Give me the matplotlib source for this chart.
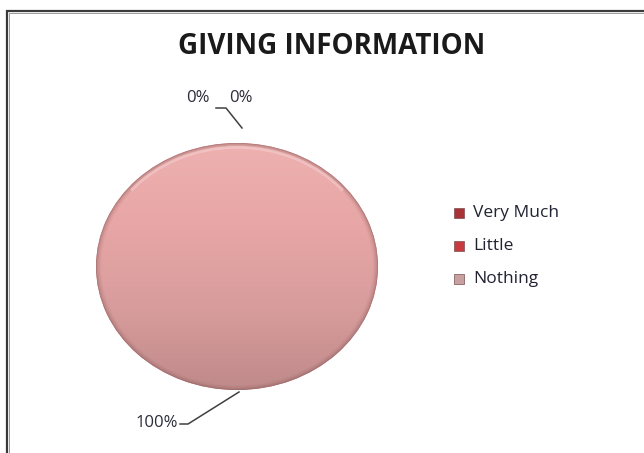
import numpy as np
import matplotlib.pyplot as plt
from matplotlib.colors import LinearSegmentedColormap
from matplotlib.patches import Rectangle, Ellipse, Arc

plt.rcParams['font.family'] = ['Open Sans', 'DejaVu Sans']

title = 'GIVING INFORMATION'
categories = ['Very Much', 'Little', 'Nothing']
values = [0, 0, 100]
colors = ['#a53236', '#c73a3e', '#d99a9a']

W, H = 644, 453
fig = plt.figure(figsize=(W / 100, H / 100), dpi=100)

# outer frame (double grey line)
fig.add_artist(Rectangle((7 / W, -0.1), 1.2, 1 - 11 / H + 0.1,
                         transform=fig.transFigure, fill=False,
                         edgecolor='#3a3a3a', linewidth=1.6))
fig.add_artist(Rectangle((9 / W, -0.1), 1.2, 1 - 13 / H + 0.1,
                         transform=fig.transFigure, fill=False,
                         edgecolor='#9a9a9a', linewidth=0.7))

fig.text(332 / W, 1 - 46 / H, title, ha='center', va='center',
         fontsize=20, fontweight='bold', color='#1a1a1a')

# pie axes sized to the ellipse
px0, py0, pw, ph = 96, 143, 282, 247
ax = fig.add_axes([px0 / W, 1 - (py0 + ph) / H, pw / W, ph / H])
wedges, _ = ax.pie(values, colors=colors, startangle=90, counterclock=False,
                   radius=1, wedgeprops=dict(linewidth=0))
ax.set_aspect('auto')
ax.set_xlim(-1, 1)
ax.set_ylim(-1, 1)
ax.axis('off')

# vertical shading on the full slice
cmap = LinearSegmentedColormap.from_list('sh', ['#eeb0b0', '#e8a6a6', '#d89c9c', '#c08a8a'])
grad = np.linspace(0, 1, 256).reshape(-1, 1)
big = wedges[2]
img = ax.imshow(grad, cmap=cmap, extent=[-1, 1, -1, 1], aspect='auto', origin='upper', zorder=2)
img.set_clip_path(big)

# soft darker rim
for r, a in [(1.0, 0.55), (0.99, 0.3), (0.98, 0.15), (0.97, 0.07)]:
    ring = Ellipse((0, 0), 2 * r, 2 * r, fill=False, edgecolor='#8a5c5c',
                   linewidth=1.2, alpha=a, zorder=3)
    ring.set_clip_path(big)
    ax.add_patch(ring)
# faint light edge along the top
hl = Arc((0, -0.015), 1.96, 1.96, theta1=40, theta2=140, edgecolor='#f8d4d4',
         linewidth=2.0, alpha=0.55, zorder=3)
hl.set_clip_path(big)
ax.add_patch(hl)

# percentage labels with leader lines
total = sum(values)
pct = [f'{v / total * 100:.0f}%' for v in values]
lab_kw = dict(fontsize=12, color='#2b2b3b', va='center')
fig.text(186 / W, 1 - 98 / H, pct[0], ha='left', **lab_kw)
fig.text(229 / W, 1 - 98 / H, pct[1], ha='left', **lab_kw)
fig.text(178 / W, 1 - 423 / H, pct[2], ha='right', **lab_kw)

def leader(pts):
    xs = [p[0] / W for p in pts]
    ys = [1 - p[1] / H for p in pts]
    fig.add_artist(plt.Line2D(xs, ys, color='#404040', linewidth=1.1,
                              transform=fig.transFigure))

leader([(216, 108), (226, 108), (242, 128)])
leader([(180, 424), (188, 424), (239, 392)])

# legend
leg_y = [213, 246, 279]
leg_fill = ['#a83236', '#c73a3e', '#c9a0a0']
for name, y, c in zip(categories, leg_y, leg_fill):
    fig.add_artist(Rectangle((454 / W, 1 - (y + 5) / H), 10 / W, 10 / H,
                             transform=fig.transFigure, facecolor=c,
                             edgecolor='#7a5050', linewidth=0.5))
    fig.text(473 / W, 1 - y / H, name, ha='left', va='center',
             fontsize=12.5, color='#222233')

fig.savefig('out.png', dpi=100)
